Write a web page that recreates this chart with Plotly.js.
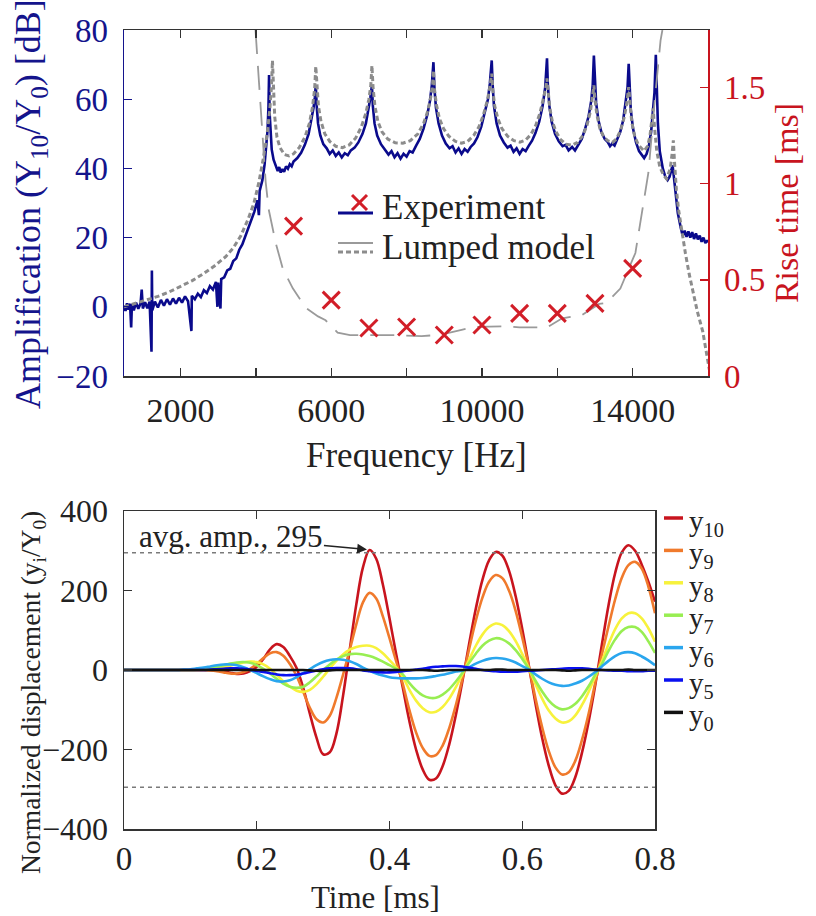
<!DOCTYPE html>
<html>
<head>
<meta charset="utf-8">
<script src="https://cdn.plot.ly/plotly-3.0.1.min.js"></script>
<style>html,body{margin:0;padding:0;background:#fff}#chart{width:816px;height:916px}</style>
</head>
<body>
<div id="chart"></div>
<script>
// ---------- TOP PANEL DATA ----------
const freqExp = [500,540,580,620,660,690,710,760,820,880,940,970,1000,1060,1120,1180,1230,1240,1250,1320,1400,1480,1560,1640,1720,1800,1880,1960,2040,2120,2200,2290,2300,2380,2460,2540,2620,2700,2780,2860,2940,2980,3000,3060,3080,3160,3240,3320,3400,3480,3560,3640,3720,3800,3880,3960,4040,4080,4100,4173,4230,4280,4310,4335,4350,4365,4385,4420,4470,4530,4580,4620,4660,4705,4750,4800,4850,4900,4950,5000,5100,5200,5300,5400,5470,5530,5565,5590,5615,5650,5710,5790,5880,5960,6040,6120,6200,6280,6360,6440,6520,6620,6720,6830,6920,6990,7040,7080,7105,7150,7220,7320,7430,7520,7600,7680,7760,7840,7920,8000,8080,8160,8250,8350,8450,8550,8620,8670,8713,8740,8780,8850,8940,9040,9140,9220,9300,9380,9460,9540,9620,9700,9790,9880,9980,10080,10160,10210,10260,10285,10320,10390,10480,10580,10680,10760,10840,10920,11000,11080,11160,11240,11330,11420,11520,11610,11680,11727,11750,11790,11850,11940,12040,12140,12220,12300,12393,12470,12560,12650,12740,12830,12900,12940,12971,12995,13030,13090,13170,13260,13340,13400,13460,13520,13590,13670,13750,13820,13865,13895,13915,13950,14010,14090,14170,14240,14305,14370,14430,14490,14540,14580,14615,14640,14670,14720,14800,14870,14927,14980,15030,15060,15090,15140,15200,15280,15330,15380,15430,15480,15530,15580,15630,15680,15730,15780,15830,15880,15930,15980,16000];
const ampExp = [0.3,-1.2,1.0,-0.8,0.9,-6.0,0.8,-1.0,1.2,-0.6,1.0,5.0,-0.5,1.3,-0.4,1.5,-13,10.5,-1,1.5,-0.2,2.0,0.3,2.2,0.6,2.4,0.9,2.6,1.2,3.0,1.6,-7,3.2,2.2,3.8,2.8,4.8,4.0,6.0,5.0,7.2,0.0,7.0,-0.5,8.0,8.5,10.5,11.0,13.2,14.0,16.5,18.0,20.5,22.5,25.0,27.5,30.8,26.5,33.5,36.6,41,46,51,58,67,56,50,45.5,42.5,40.5,39.2,40.4,38.8,39.8,39.0,40.6,39.9,41.2,40.6,42.0,43.0,44.5,46.8,50,53.5,57.5,60.5,64,58,53,49.5,47,45.8,44.2,45.2,43.6,44.6,43.2,44.4,43.8,45.2,46.0,47.5,50.0,53,57,60.5,64,58,53,49.5,47,45.5,44.0,45.0,43.2,44.4,42.8,44.2,43.4,45.0,44.6,46.5,48.5,51.5,55.5,59.5,64,70.7,63,57.5,53,49.5,47.2,45.8,46.4,44.6,45.8,44.2,45.6,44.8,46.2,47.2,49.0,52,56,60,64.5,71.2,64,58,53,49.5,47.5,46.0,46.6,44.8,45.8,44.2,45.6,45.0,46.5,48.0,50.2,53.5,58,63.5,71.8,64,58,53.5,50,47.8,46.4,46.8,45.2,46.2,45.2,46.8,48.5,51.5,55,59.5,64,72.6,65,59,54,50.5,48.5,47.6,46.4,47.2,46.6,48.2,50.5,54,59,63.5,70.2,63,57,51.5,47.5,45,43.8,43.0,44.2,46.5,50.5,56,62,72.8,63,53,45,40,37.5,36.6,37.6,39.5,40.9,38,33,27,22.7,20.5,22.0,20.2,21.8,20.0,21.6,19.6,21.2,19.5,20.6,18.8,20.0,18.4,19.2,18.6];

const freqModel = [500,800,1100,1400,1700,2000,2300,2600,2900,3200,3400,3600,3800,3950,4080,4200,4300,4370,4410,4440,4465,4500,4560,4640,4760,4880,5000,5150,5300,5420,5500,5560,5590,5620,5660,5730,5830,5960,6120,6300,6480,6650,6800,6920,7000,7050,7080,7110,7160,7240,7350,7500,7700,7900,8100,8300,8450,8560,8640,8690,8713,8740,8790,8870,8980,9120,9300,9460,9620,9780,9920,10040,10140,10210,10260,10290,10340,10420,10530,10680,10850,11007,11160,11300,11430,11540,11630,11690,11727,11755,11800,11870,11970,12090,12230,12393,12540,12680,12790,12880,12935,12971,13000,13050,13130,13230,13340,13460,13570,13680,13770,13840,13895,13925,13975,14050,14150,14305,14400,14460,14510,14544,14580,14640,14720,14820,14900,15000,15050,15080,15110,15160,15220,15280,15400,15500,15593,15720,15860,15960,16050];
const ampModel = [0,1.0,2.0,3.0,4.3,5.8,7.5,9.5,11.8,14.5,17.0,20.5,25.5,30,36,43,50,57,63,71.2,62,55,49,46,44,43.6,44.2,46,49,53,57.5,63,69.5,63,58,53.5,50,47.8,46.4,46.0,46.8,48.8,52,56,60,64,69.7,63.5,58,53.5,50.5,48.5,47.4,47.3,48.0,50,53,56.5,60.5,64.5,68.3,63,58.5,54.5,51.5,49.3,47.8,47.3,47.8,49.5,52,55.5,59.5,63.5,67.4,62.5,58,54.5,51.5,49.3,48,47.6,48.2,49.8,52.5,56,60,63,66,62,57.5,53.5,50.5,48.3,47,46.7,47.5,49.5,52.5,56.5,60.5,64,60,55.5,51.5,49.2,48,47.5,48.5,51,54.5,58.5,63.5,58.5,53.5,49.5,46.8,45,46.5,49.5,53.5,57.3,52,45,40.5,38,37,40,44.5,48.1,42,34,28,23.6,15.5,9.5,4.4,-1.5,-7.1,-13,-19];

const freqRiseModel = [3990,4127,4260,4340,4527,4713,4980,5327,5650,5850,6170,6500,7250,7700,8400,8900,9460,9800,10600,11000,11730,12130,12660,13110,13300,13673,14073,14260,14420,14580,14740,14790];
const riseModel = [1.80,1.385,1.01,0.867,0.692,0.559,0.456,0.354,0.31,0.29,0.225,0.213,0.213,0.213,0.207,0.215,0.24,0.255,0.258,0.253,0.253,0.30,0.318,0.375,0.38,0.455,0.64,0.856,1.06,1.42,1.745,1.80];

const freqRiseExp = [5000,6000,7000,8000,9000,10000,11000,12000,13000,14000];
const riseExp = [0.78,0.395,0.25,0.255,0.213,0.265,0.326,0.326,0.378,0.56];

const freqTickVals = [2000,4000,6000,8000,10000,12000,14000];
const freqTickText = ['2000','','6000','','10000','','14000'];

// ---------- BOTTOM PANEL DATA ----------
const timeMs = [0,0.01,0.02,0.03,0.04,0.05,0.06,0.07,0.08,0.09,0.10,0.11,0.12,0.13,0.14,0.15,0.16,0.17,0.18,0.19,0.20,0.21,0.22,0.23,0.24,0.25,0.26,0.27,0.28,0.29,0.30,0.31,0.32,0.33,0.34,0.35,0.36,0.37,0.38,0.39,0.40,0.41,0.42,0.43,0.44,0.45,0.46,0.47,0.48,0.49,0.50,0.51,0.52,0.53,0.54,0.55,0.56,0.57,0.58,0.59,0.60,0.61,0.62,0.63,0.64,0.65,0.66,0.67,0.68,0.69,0.70,0.71,0.72,0.73,0.74,0.75,0.76,0.77,0.78,0.79,0.80];
const y10 = [0,0,0,0,0,0,0,0,0,0,0,0,0,0,-1,-3,-7,-10,-9,-3,8,28,52,65,58,35,5,-45,-110,-170,-212,-207,-160,-65,50,165,258,302,280,215,130,40,-44,-129,-200,-250,-276,-273,-242,-187,-113,-27,66,154,227,276,297,288,250,186,103,10,-85,-171,-241,-290,-311,-304,-269,-208,-130,-38,64,163,244,296,314,300,265,222,172];
const y9 = [0,0,0,0,0,0,0,0,0,0,0,0,0,-1,-3,-6,-9,-9,-5,3,15,30,42,45,36,15,-15,-55,-95,-124,-132,-115,-70,-12,50,115,170,194,180,135,80,22,-35,-101,-157,-196,-216,-214,-190,-146,-88,-21,53,124,182,222,239,231,200,149,82,8,-72,-144,-204,-245,-263,-257,-228,-176,-110,-32,40,110,178,232,264,272,255,210,143];
const y8 = [0,0,0,0,0,0,0,0,0,0,0,0,1,2,4,7,11,15,19,21,20,14,3,-12,-28,-42,-52,-55,-50,-36,-17,4,23,39,51,58,61,61,55,42,25,7,-17,-50,-77,-96,-106,-105,-93,-72,-43,-10,26,61,89,108,117,113,98,73,40,4,-36,-72,-102,-122,-132,-129,-114,-88,-55,-16,22,65,103,130,143,143,130,105,71];
const y7 = [0,0,0,0,0,0,0,0,0,0,0,1,3,5,8,12,16,19,20,18,12,3,-9,-22,-34,-42,-45,-42,-31,-16,0,14,26,35,40,41,39,35,29,21,12,3,-11,-33,-51,-64,-70,-70,-62,-48,-29,-7,18,41,61,74,80,77,67,50,28,3,-27,-54,-77,-92,-99,-96,-85,-66,-41,-12,15,48,77,98,108,108,96,72,43];
const y6 = [0,0,0,0,0,0,0,0,0,1,2,4,6,9,12,14,14,12,7,0,-8,-16,-23,-28,-29,-26,-18,-8,2,12,20,25,27,26,22,15,6,-2,-9,-14,-18,-20,-21,-21,-21,-20,-18,-15,-12,-8,-4,-1,7,16,23,28,30,29,25,19,10,1,-11,-22,-31,-37,-40,-39,-34,-27,-17,-5,9,23,35,43,45,42,34,24,12];
const y5 = [0,0,0,0,0,0,0,0,0,0,0,0,0,1,2,3,4,4,3,1,-2,-5,-8,-11,-13,-13,-12,-9,-5,-1,2,4,5,5,4,2,-1,-3,-5,-6,-6,-5,-3,-1,1,3,6,8,9,10,10,9,6,3,0,-2,-3,-4,-4,-4,-3,-2,-1,0,1,2,3,4,4,4,3,1,0,-1,-2,-2,-3,-3,-3,-2,-2];
const y0 = [0,0,0,0,0,0,0,0,0,0,0,0,0,0,0,0,0,0,0,0,0,0,0,0,0,0,0,0,-1,-2,-2,-1,0,0,0,0,0,0,0,0,0,0,0,0,0,0,-1,-2,-1,0,0,0,0,0,0,0,1,1,0,0,0,0,0,0,0,0,-1,-2,-1,0,0,0,0,0,0,0,1,0,0,0,0];
const seriesNames = ['y<sub>10</sub>','y<sub>9</sub>','y<sub>8</sub>','y<sub>7</sub>','y<sub>6</sub>','y<sub>5</sub>','y<sub>0</sub>'];
const seriesData = [y10,y9,y8,y7,y6,y5,y0];
const seriesColors = ['#c8141e','#f07a2c','#f7f23c','#98ee52','#2aa6ee','#0a10f0','#111111'];
const avgAmp = 295;
const timeTickVals = [0,0.2,0.4,0.6,0.8];
const timeTickText = ['0','0.2','0.4','0.6','0.8'];

// ---------- LAYOUT HELPERS ----------
const W = 816, H = 916;
const px = x => x / W;
const py = y => 1 - y / H;
const FONT = '"Liberation Serif", "Times New Roman", serif';
const BLUE = '#14148c', RED = '#c8141e', INK = '#222222';

const traces = [
  {x: freqExp, y: ampExp, xaxis: 'x', yaxis: 'y', mode: 'lines', line: {color: '#0a0a8c', width: 2.6}, showlegend: false, hoverinfo: 'skip'},
  {x: freqModel, y: ampModel, xaxis: 'x', yaxis: 'y', mode: 'lines', line: {color: '#8c8c8c', width: 3, dash: '5px,3px'}, showlegend: false, hoverinfo: 'skip'},
  {x: freqRiseModel, y: riseModel, xaxis: 'x', yaxis: 'y2', mode: 'lines', line: {color: '#9a9a9a', width: 1.8, dash: '24px,12px'}, showlegend: false, hoverinfo: 'skip'},
  {x: freqRiseExp, y: riseExp, xaxis: 'x', yaxis: 'y2', mode: 'markers', marker: {symbol: 'x-thin', size: 17, line: {width: 3, color: '#d21e28'}, color: '#d21e28'}, showlegend: false}
];
seriesData.forEach((s, i) => {
  traces.push({x: timeMs, y: s, xaxis: 'x2', yaxis: 'y3', mode: 'lines', name: seriesNames[i], showlegend: false,
    line: {color: seriesColors[i], width: 2.6, shape: 'spline', smoothing: 1}});
});

const axBase = {showgrid: false, zeroline: false, showline: true, linewidth: 1.5, ticks: 'inside', ticklen: 8, tickwidth: 1.3,
  tickfont: {family: FONT, size: 32, color: INK}};

// manual legend for the lower panel (sample lines + labels), built from the series lists
const legendShapes = [], legendAnns = [];
seriesNames.forEach((nm, i) => {
  const ly = 518 + 32.4 * i;
  legendShapes.push({type: 'line', xref: 'paper', yref: 'paper', x0: px(664), x1: px(683), y0: py(ly), y1: py(ly),
    line: {color: seriesColors[i], width: 3.5}});
  legendAnns.push({xref: 'paper', yref: 'paper', x: px(687), y: py(ly + 5), xanchor: 'left', yanchor: 'middle', showarrow: false,
    text: nm, font: {family: FONT, size: 29, color: INK}});
});

const layout = {
  width: W, height: H,
  margin: {l: 0, r: 0, t: 0, b: 0},
  paper_bgcolor: '#fff', plot_bgcolor: '#fff',
  font: {family: FONT, color: INK},
  showlegend: false,
  xaxis: Object.assign({}, axBase, {domain: [px(124), px(708)], anchor: 'y', range: [500, 16000],
    tickvals: freqTickVals, ticktext: freqTickText, linecolor: '#333', tickcolor: '#333', mirror: 'ticks',
    tickfont: {family: FONT, size: 34, color: INK}, ticklabelstandoff: 4}),
  yaxis: Object.assign({}, axBase, {domain: [py(376), py(30)], anchor: 'x', range: [-20, 80], tickvals: [-20,0,20,40,60,80],
    linecolor: BLUE, tickcolor: BLUE, tickfont: {family: FONT, size: 33, color: BLUE}, ticklabelstandoff: 8}),
  yaxis2: Object.assign({}, axBase, {overlaying: 'y', side: 'right', anchor: 'x', range: [0, 1.8], tickvals: [0,0.5,1,1.5], ticktext: ['0','0.5','1','1.5'],
    linecolor: RED, tickcolor: RED, tickfont: {family: FONT, size: 33, color: RED}, ticklabelstandoff: 8,
    title: {text: 'Rise time [ms]', font: {family: FONT, size: 34, color: RED}, standoff: 10}}),
  xaxis2: Object.assign({}, axBase, {domain: [px(124), px(655)], anchor: 'y3', range: [0, 0.8],
    tickvals: timeTickVals, ticktext: timeTickText, linecolor: '#333', tickcolor: '#333', mirror: 'ticks', ticklabelstandoff: 0,
    tickfont: {family: FONT, size: 33, color: INK}}),
  yaxis3: Object.assign({}, axBase, {domain: [py(829), py(511)], anchor: 'x2', range: [-400, 400], tickvals: [-400,-200,0,200,400],
    linecolor: '#333', tickcolor: '#333', mirror: 'ticks', ticklabelstandoff: 8}),
  shapes: [
    {type: 'line', xref: 'x2 domain', yref: 'y3', x0: 0, x1: 1, y0: avgAmp, y1: avgAmp, line: {color: '#7a7a7a', width: 1.5, dash: '4px,4px'}},
    {type: 'line', xref: 'x2 domain', yref: 'y3', x0: 0, x1: 1, y0: -avgAmp, y1: -avgAmp, line: {color: '#7a7a7a', width: 1.5, dash: '4px,4px'}},
    // legend samples (top panel)
    {type: 'line', xref: 'paper', yref: 'paper', x0: px(338), x1: px(373), y0: py(213), y1: py(213), line: {color: '#0a0a8c', width: 3}},
    {type: 'line', xref: 'paper', yref: 'paper', x0: px(352), x1: px(367), y0: py(195), y1: py(210), line: {color: '#d21e28', width: 3}},
    {type: 'line', xref: 'paper', yref: 'paper', x0: px(352), x1: px(367), y0: py(210), y1: py(195), line: {color: '#d21e28', width: 3}},
    {type: 'line', xref: 'paper', yref: 'paper', x0: px(338), x1: px(373), y0: py(243), y1: py(243), line: {color: '#9a9a9a', width: 2}},
    {type: 'line', xref: 'paper', yref: 'paper', x0: px(338), x1: px(373), y0: py(252), y1: py(252), line: {color: '#8c8c8c', width: 3, dash: '5px,3px'}}
  ].concat(legendShapes),
  annotations: [
    {xref: 'paper', yref: 'paper', x: px(380), y: py(208), xanchor: 'left', yanchor: 'middle', showarrow: false,
      text: 'Experiment', font: {family: FONT, size: 35, color: INK}},
    {xref: 'paper', yref: 'paper', x: px(380), y: py(248), xanchor: 'left', yanchor: 'middle', showarrow: false,
      text: 'Lumped model', font: {family: FONT, size: 35, color: INK}},
    // axis titles
    {xref: 'paper', yref: 'paper', x: px(31), y: py(204), xanchor: 'center', yanchor: 'middle', showarrow: false, textangle: -90,
      text: 'Amplification (Y<sub>10</sub>/Y<sub>0</sub>) [dB]', font: {family: FONT, size: 36, color: BLUE}},
    {xref: 'paper', yref: 'paper', x: px(416), y: py(455), xanchor: 'center', yanchor: 'middle', showarrow: false,
      text: 'Frequency [Hz]', font: {family: FONT, size: 35, color: INK}},
    {xref: 'paper', yref: 'paper', x: px(32), y: py(693), xanchor: 'center', yanchor: 'middle', showarrow: false, textangle: -90,
      text: 'Normalized displacement (y<sub>i</sub>/Y<sub>0</sub>)', font: {family: FONT, size: 27.5, color: INK}},
    {xref: 'paper', yref: 'paper', x: px(375), y: py(897), xanchor: 'center', yanchor: 'middle', showarrow: false,
      text: 'Time [ms]', font: {family: FONT, size: 31, color: INK}},
    {xref: 'x2', yref: 'y3', x: 0.366, y: 303, ax: -136, ay: -13, showarrow: true, arrowhead: 2, arrowsize: 1.3, arrowwidth: 1.5, arrowcolor: INK,
      text: 'avg. amp., 295', font: {family: FONT, size: 31, color: INK}}
  ].concat(legendAnns)
};

Plotly.newPlot('chart', traces, layout, {displayModeBar: false, staticPlot: true});
</script>
</body>
</html>
